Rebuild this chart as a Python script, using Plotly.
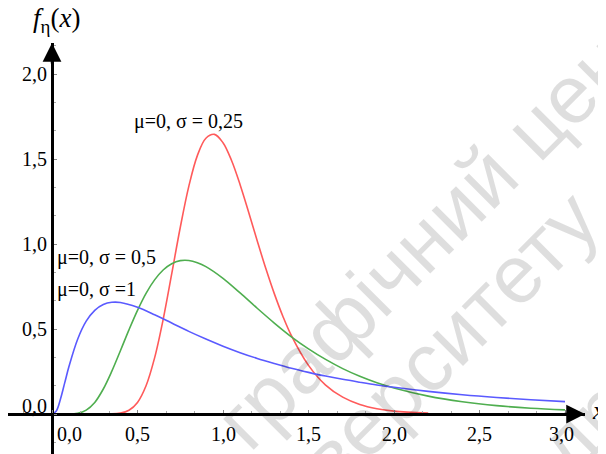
import plotly.graph_objects as go

# ---- data ----
x_s1 = [0, 0.025, 0.05, 0.075, 0.1, 0.15, 0.2, 0.25, 0.3, 0.35, 0.4, 0.5, 0.6, 0.7, 0.8, 0.9, 1.0,
        1.1, 1.2, 1.3, 1.4, 1.5, 1.6, 1.7, 1.8, 1.9, 2.0, 2.2, 2.4, 2.6, 2.8, 3.0]
y_s1 = [0, 0.018, 0.090, 0.186, 0.282, 0.440, 0.546, 0.610, 0.644, 0.657, 0.656, 0.628, 0.584, 0.535,
        0.486, 0.441, 0.399, 0.361, 0.327, 0.297, 0.269, 0.245, 0.223, 0.204, 0.187, 0.171, 0.157,
        0.133, 0.113, 0.097, 0.084, 0.073]

x_s05 = [0.1, 0.15, 0.2, 0.25, 0.3, 0.35, 0.4, 0.45, 0.5, 0.55, 0.6, 0.65, 0.7, 0.75, 0.8, 0.85, 0.9,
         1.0, 1.1, 1.2, 1.3, 1.4, 1.5, 1.6, 1.7, 1.8, 1.9, 2.0, 2.2, 2.4, 2.6, 2.8, 3.0]
y_s05 = [0.000, 0.004, 0.023, 0.068, 0.147, 0.252, 0.372, 0.495, 0.610, 0.710, 0.789, 0.847, 0.884,
         0.902, 0.903, 0.890, 0.867, 0.798, 0.712, 0.622, 0.535, 0.454, 0.383, 0.321, 0.267, 0.222,
         0.184, 0.153, 0.105, 0.072, 0.049, 0.034, 0.024]

x_s025 = [0.35, 0.4, 0.45, 0.5, 0.55, 0.6, 0.65, 0.7, 0.75, 0.8, 0.85, 0.9, 0.95, 1.0, 1.05, 1.1,
          1.15, 1.2, 1.25, 1.3, 1.35, 1.4, 1.5, 1.6, 1.7, 1.8, 1.9, 2.0, 2.2]
y_s025 = [0.001, 0.005, 0.022, 0.068, 0.166, 0.330, 0.556, 0.824, 1.097, 1.339, 1.520, 1.622, 1.645,
          1.596, 1.491, 1.349, 1.187, 1.019, 0.857, 0.708, 0.575, 0.461, 0.286, 0.170, 0.099, 0.056,
          0.031, 0.017, 0.005]

x_ticks = [0, 0.5, 1.0, 1.5, 2.0, 2.5, 3.0]
x_tick_text = ["0,0", "0,5", "1,0", "1,5", "2,0", "2,5", "3,0"]
y_ticks = [0, 0.5, 1.0, 1.5, 2.0]
y_tick_text = ["0,0", "0,5", "1,0", "1,5", "2,0"]

series_labels = ["μ=0, σ = 0,25", "μ=0, σ = 0,5", "μ=0, σ =1"]
watermark_lines = ["графічний центр", "університету", "друку"]

W, H = 606, 454
OFF = 8  # page body margin
X0PX, Y0PX, SX, SY = 52 - OFF, 414 - OFF, 171.0, 170.0  # origin pixel and px per unit
LEFT, RIGHT, TOP = 0, 585 - OFF, 43 - OFF

xr = [(LEFT - X0PX) / SX, (RIGHT - X0PX) / SX]
yr = [-(H - Y0PX) / SY, (Y0PX - TOP) / SY]


def px(x):
    return (x - OFF) / W


def py(y):
    return 1 - (y - OFF) / H


SERIF = "Liberation Serif"
fig = go.Figure()
fig.add_trace(go.Scatter(x=x_s025, y=y_s025, mode="lines", line=dict(color="#ff5a5a", width=1.6, shape="spline"), showlegend=False))
fig.add_trace(go.Scatter(x=x_s05, y=y_s05, mode="lines", line=dict(color="#4fae4f", width=1.6, shape="spline"), showlegend=False))
fig.add_trace(go.Scatter(x=x_s1, y=y_s1, mode="lines", line=dict(color="#5a5aff", width=1.6, shape="spline"), showlegend=False))

ann = []
# watermark
wm = "rgba(0,0,0,0.13)"
for t, (cx, cy) in zip(watermark_lines, [(452, 212), (412, 376), (625, 385)]):
    ann.append(dict(text=t, xref="paper", yref="paper", x=px(cx), y=py(cy), xanchor="center", yanchor="middle",
                    showarrow=False, textangle=-45, font=dict(family="Liberation Sans", size=82, color=wm)))

for v, t in zip(x_ticks, x_tick_text):
    a = dict(x=v, y=0, xref="x", yref="y", text=t, showarrow=False, yshift=-20,
             font=dict(family=SERIF, size=20, color="black"))
    if v == 0:
        a.update(xanchor="left", xshift=3)
    elif v == 3.0:
        a.update(xshift=-4)
    ann.append(a)
for v, t in zip(y_ticks, y_tick_text):
    a = dict(x=0, y=v, xref="x", yref="y", text=t, showarrow=False, xanchor="right", xshift=-3,
             font=dict(family=SERIF, size=20, color="black"))
    if v == 0:
        a.update(yshift=8)
    ann.append(a)

# curve labels
ann.append(dict(x=0.47, y=1.72, xref="x", yref="y", text=series_labels[0], showarrow=False, xanchor="left",
                font=dict(family=SERIF, size=20, color="black")))
ann.append(dict(x=0.02, y=0.92, xref="x", yref="y", text=series_labels[1], showarrow=False, xanchor="left",
                font=dict(family=SERIF, size=20, color="black")))
ann.append(dict(x=0.02, y=0.735, xref="x", yref="y", text=series_labels[2], showarrow=False, xanchor="left",
                font=dict(family=SERIF, size=20, color="black")))

# axis titles
ann.append(dict(xref="paper", yref="paper", x=px(56), y=py(20), xanchor="center", yanchor="middle",
                text="<i>f</i><sub>η</sub>(<i>x</i>)",
                showarrow=False, font=dict(family=SERIF, size=27, color="black")))
ann.append(dict(xref="paper", yref="paper", x=px(598), y=py(410), xanchor="center", yanchor="middle",
                text="<i>x</i>",
                showarrow=False, font=dict(family=SERIF, size=26, color="black")))

# arrowheads
ann.append(dict(xref="paper", yref="paper", x=RIGHT / W, y=(H - Y0PX) / H, ax=-22, ay=0, text="",
                showarrow=True, arrowhead=2, arrowsize=1.5, arrowwidth=2.5, arrowcolor="black"))
ann.append(dict(xref="paper", yref="paper", x=X0PX / W, y=1 - TOP / H, ax=0, ay=22, text="",
                showarrow=True, arrowhead=2, arrowsize=1.5, arrowwidth=2.5, arrowcolor="black"))

fig.update_layout(
    width=W, height=H, margin=dict(l=0, r=0, t=0, b=0),
    paper_bgcolor="white", plot_bgcolor="white",
    annotations=ann, showlegend=False,
    xaxis=dict(range=xr, domain=[LEFT / W, RIGHT / W], anchor="free", position=(H - Y0PX) / H,
               showgrid=False, zeroline=False, showline=True, linecolor="black", linewidth=3,
               showticklabels=False, ticks="inside", ticklen=3, tickcolor="#888",
               tickmode="linear", tick0=0, dtick=0.5,
               minor=dict(ticks="inside", ticklen=2, tickcolor="#aaa", dtick=0.5 / 3, tick0=0)),
    yaxis=dict(range=yr, domain=[0, 1 - TOP / H], anchor="free", position=X0PX / W,
               showgrid=False, zeroline=False, showline=True, linecolor="black", linewidth=3,
               showticklabels=False, ticks="inside", ticklen=3, tickcolor="#888",
               tickmode="linear", tick0=0, dtick=0.5,
               minor=dict(ticks="inside", ticklen=2, tickcolor="#aaa", dtick=0.5 / 3, tick0=0)),
)

fig.write_html("out.html")
